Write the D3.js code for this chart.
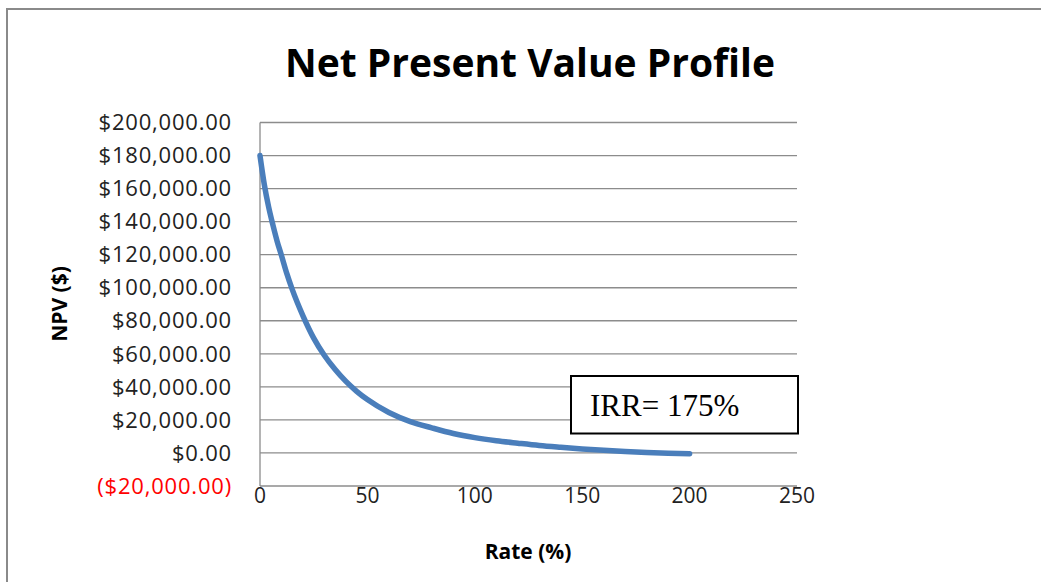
<!DOCTYPE html>
<html>
<head>
<meta charset="utf-8">
<script src="https://cdn.jsdelivr.net/npm/d3@7"></script>
<style>
  html, body { margin: 0; padding: 0; background: #fff; }
  svg { display: block; }
</style>
</head>
<body>
<div id="chart"></div>
<script>
// NPV profile
const rates = [0, 2, 4, 6, 8, 10, 12.5, 15, 20, 25, 30, 35, 40, 45, 50, 60, 70, 80, 90, 100,
               110, 120, 130, 140, 150, 160, 170, 180, 190, 200];
const npv = [180000, 162500, 149000, 138000, 128000, 119500, 108500, 99000, 83000, 69500,
             59000, 50500, 43300, 37300, 32300, 24500, 19000, 15200, 11800, 9300,
             7400, 5900, 4500, 3400, 2400, 1600, 900, 300, -150, -500];
const xTicks = [0, 50, 100, 150, 200, 250];
const yTicks = [-20000, 0, 20000, 40000, 60000, 80000, 100000, 120000, 140000, 160000, 180000, 200000];
const irrLabel = "IRR= 175%";

const width = 1041, height = 582;
const svg = d3.select("#chart").append("svg")
  .attr("width", width).attr("height", height);

// outer chart border (only top and left show)
svg.append("path")
  .attr("d", "M7,582 V9 H1041")
  .attr("fill", "none")
  .attr("stroke", "#8a8a8a")
  .attr("stroke-width", 2);

const x = d3.scaleLinear().domain([0, 250]).range([260, 797]);
const y = d3.scaleLinear().domain([-20000, 200000]).range([486, 122.5]);

const fmt = d3.format("$,.2f");
const yFmt = v => v < 0 ? "(" + fmt(-v) + ")" : fmt(v);

// gridlines
svg.append("g").selectAll("line")
  .data(yTicks)
  .join("line")
    .attr("x1", x(0)).attr("x2", x(250))
    .attr("y1", d => y(d)).attr("y2", d => y(d))
    .attr("stroke", "#8c8c8c")
    .attr("stroke-width", 1.3);

// y axis line
svg.append("line")
  .attr("x1", x(0)).attr("x2", x(0))
  .attr("y1", y(200000)).attr("y2", y(-20000))
  .attr("stroke", "#8c8c8c").attr("stroke-width", 1.3);

// y tick labels
svg.append("g").selectAll("text")
  .data(yTicks)
  .join("text")
    .attr("x", 232)
    .attr("y", d => y(d))
    .attr("dy", "0.35em")
    .attr("text-anchor", "end")
    .attr("font-family", "Open Sans")
    .attr("font-size", 22)
    .attr("letter-spacing", 0.8)
    .attr("fill", d => d < 0 ? "#ff0000" : "#222")
    .text(yFmt);

// x tick labels
svg.append("g").selectAll("text")
  .data(xTicks)
  .join("text")
    .attr("x", d => x(d))
    .attr("y", 496)
    .attr("dy", "0.35em")
    .attr("text-anchor", "middle")
    .attr("font-family", "Open Sans")
    .attr("font-size", 21)
    .attr("fill", "#222")
    .text(d => d);

// title + axis titles
svg.append("text")
  .attr("x", 530).attr("y", 77)
  .attr("text-anchor", "middle")
  .attr("font-family", "Open Sans").attr("font-weight", "bold")
  .attr("font-size", 39)
  .attr("fill", "#000")
  .text("Net Present Value Profile");

svg.append("text")
  .attr("transform", "translate(67,304) rotate(-90)")
  .attr("text-anchor", "middle")
  .attr("font-family", "Open Sans").attr("font-weight", "bold")
  .attr("font-size", 21)
  .attr("fill", "#000")
  .text("NPV ($)");

svg.append("text")
  .attr("x", 528).attr("y", 559)
  .attr("text-anchor", "middle")
  .attr("font-family", "Open Sans").attr("font-weight", "bold")
  .attr("font-size", 21)
  .attr("fill", "#000")
  .text("Rate (%)");

// the curve
const pts = rates.map((r, i) => [r, npv[i]]);
svg.append("path")
  .datum(pts)
  .attr("fill", "none")
  .attr("stroke", "#4a7ebb")
  .attr("stroke-width", 5.5)
  .attr("stroke-linecap", "round")
  .attr("stroke-linejoin", "round")
  .attr("d", d3.line().x(d => x(d[0])).y(d => y(d[1])).curve(d3.curveMonotoneX));

// IRR annotation box
const box = svg.append("g");
box.append("rect")
  .attr("x", 571).attr("y", 376)
  .attr("width", 227).attr("height", 57.5)
  .attr("fill", "#fff")
  .attr("stroke", "#000")
  .attr("stroke-width", 2);
box.append("text")
  .attr("x", 590).attr("y", 416)
  .attr("font-family", "Liberation Serif")
  .attr("font-size", 31)
  .attr("fill", "#000")
  .text(irrLabel);
</script>
</body>
</html>
